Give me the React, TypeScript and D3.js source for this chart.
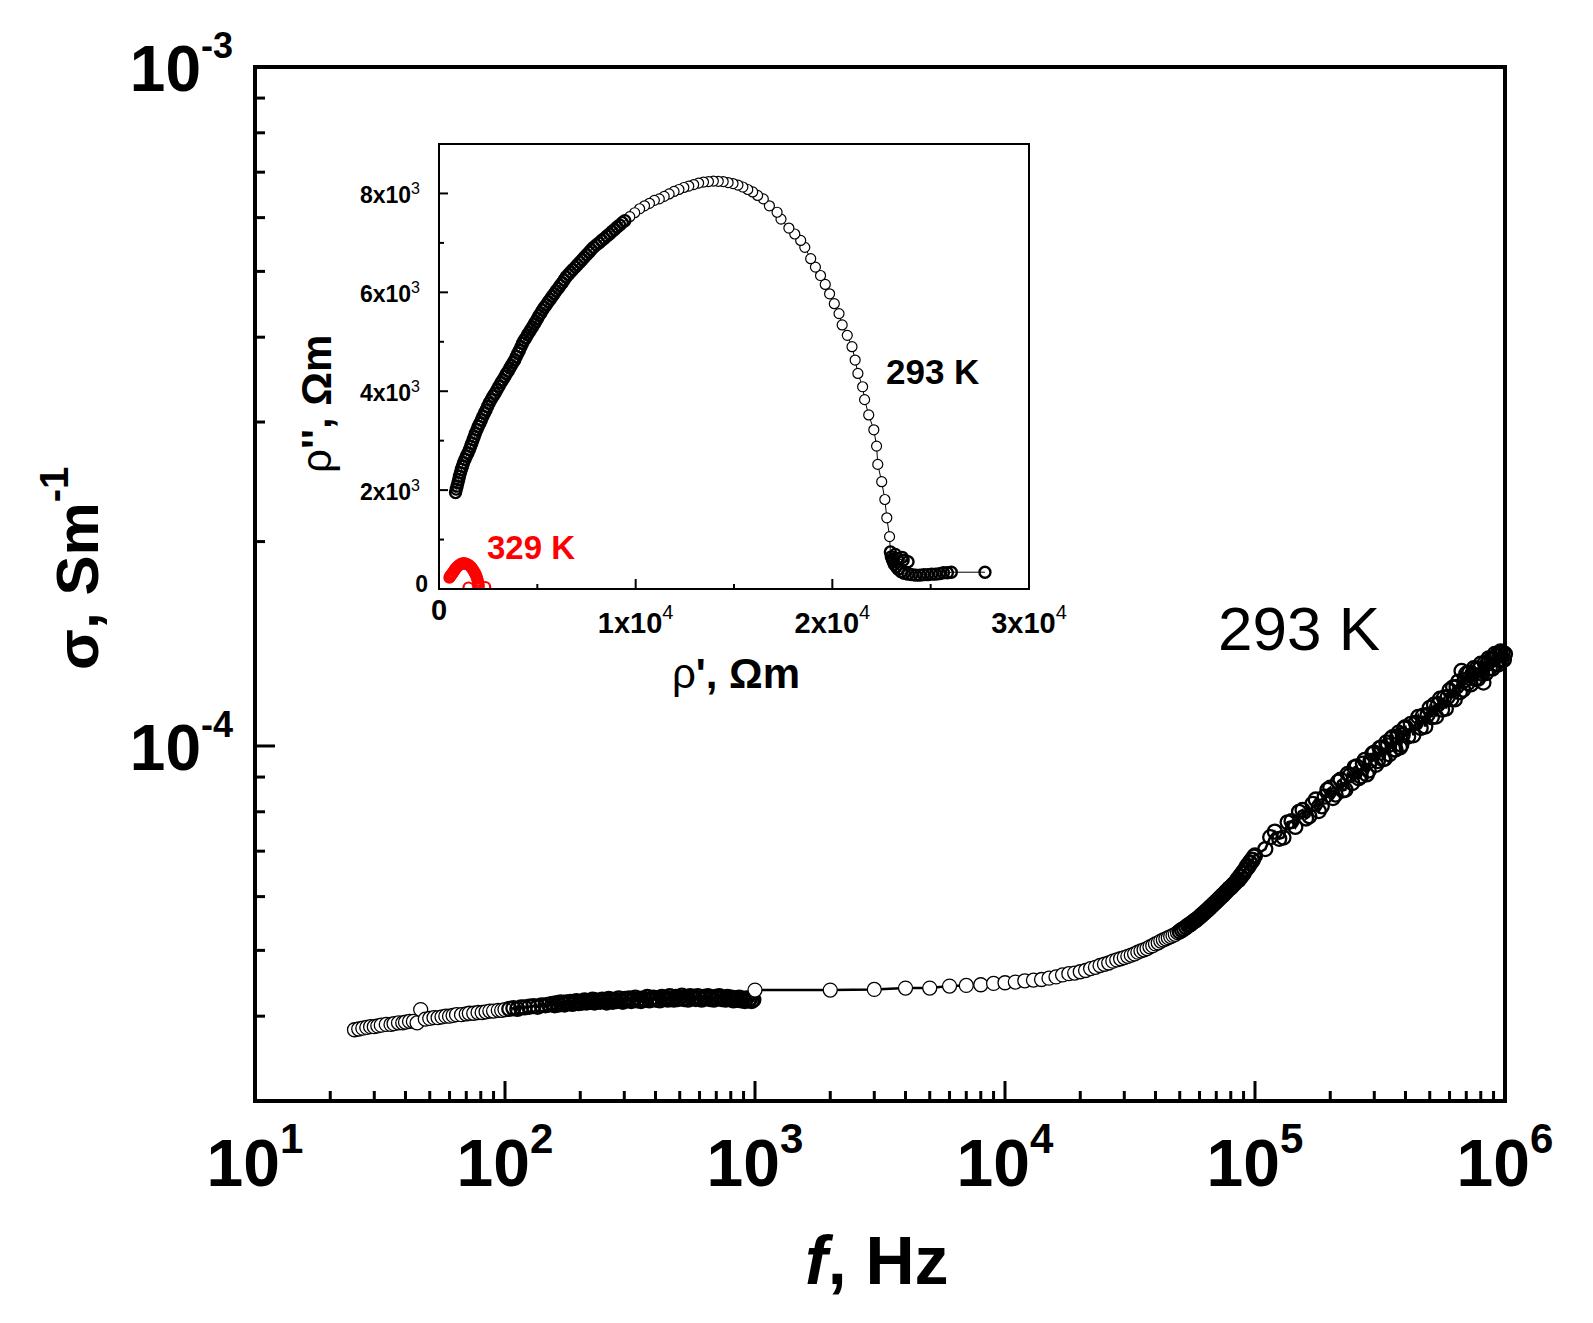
import React from 'react';
import * as d3 from 'd3';

const W = 1593;
const H = 1323;
const FONT = '"Liberation Sans", Arial, Helvetica, sans-serif';

// main plot: conductivity sigma (x1e-5 S/m) against frequency f (Hz), 293 K
const freqLow = [
  25, 26, 27, 28, 29, 30, 31, 32, 33.5, 35, 36, 37.5, 39, 40, 41.5, 43, 44.5, 46, 48, 50,
  52, 54, 56, 58, 60, 62, 64, 67, 70, 72, 75, 78, 81, 84, 87, 90, 94, 97, 100, 104,
  108, 112, 116, 120, 125, 130, 135, 140, 145, 150,
  155, 158, 161, 164, 167, 170, 173, 176, 180, 183, 186, 190, 193, 197, 200, 204, 208, 212, 216, 220,
  224, 228, 232, 236, 240, 245, 250, 255, 260, 265, 270, 275, 280, 285, 290, 296, 302, 308, 314, 320,
  326, 332, 338, 344, 350, 357, 364, 371, 378, 385, 392, 400, 408, 416, 424, 432, 440, 448, 456, 465,
  474, 483, 492, 500, 510, 520, 530, 540, 550, 560, 570, 580, 590, 600, 612, 624, 636, 648, 660, 672,
  684, 696, 708, 720, 734, 748, 762, 776, 790, 805, 820, 835, 850, 865, 880, 895, 910, 925, 940, 955,
  970, 985,
];
const sigmaLow = [
  3.82, 3.83, 3.84, 3.85, 3.86, 3.86, 3.87, 3.88, 3.89, 3.89, 3.90, 3.91, 3.91, 3.92, 3.93, 3.93, 3.91, 4.09, 3.96, 3.97,
  3.98, 3.98, 3.99, 4.00, 4.00, 4.01, 4.02, 4.02, 4.03, 4.04, 4.04, 4.05, 4.05, 4.06, 4.07, 4.07, 4.08, 4.08, 4.09, 4.10,
  4.11, 4.10, 4.12, 4.12, 4.13, 4.14, 4.13, 4.15, 4.15, 4.16,
  4.17, 4.15, 4.18, 4.16, 4.19, 4.17, 4.16, 4.19, 4.18, 4.20, 4.17, 4.19, 4.21, 4.18, 4.20, 4.19, 4.22, 4.19, 4.21, 4.20,
  4.23, 4.19, 4.22, 4.21, 4.20, 4.23, 4.21, 4.19, 4.24, 4.22, 4.20, 4.23, 4.21, 4.25, 4.22, 4.20, 4.24, 4.22, 4.25, 4.21,
  4.23, 4.26, 4.22, 4.24, 4.21, 4.25, 4.23, 4.27, 4.22, 4.24, 4.26, 4.23, 4.25, 4.22, 4.27, 4.24, 4.26, 4.23, 4.28, 4.25,
  4.23, 4.27, 4.24, 4.26, 4.29, 4.24, 4.26, 4.23, 4.28, 4.25, 4.27, 4.24, 4.28, 4.25, 4.23, 4.27, 4.25, 4.28, 4.24, 4.26,
  4.23, 4.27, 4.25, 4.28, 4.24, 4.26, 4.23, 4.27, 4.24, 4.26, 4.22, 4.25, 4.23, 4.26, 4.22, 4.24, 4.21, 4.25, 4.22, 4.24,
  4.21, 4.23,
];
const freqMid = [1000, 2000, 3000, 4000, 5000, 6000, 7000, 8000, 9000];
const sigmaMid = [4.37, 4.37, 4.38, 4.40, 4.40, 4.43, 4.44, 4.45, 4.47];
const freqHigh = [
  10000, 11000, 12000, 13000, 14000, 15000, 16000, 17000, 18000, 19000,
  20000, 21000, 22000, 23000, 24000, 25000, 26000, 27000, 28000, 29000,
  30000, 31000, 32000, 33000, 34000, 35000, 36000, 37000, 38000, 39000,
  40000, 41000, 42000, 43000, 44000, 45000, 46000, 47000, 48000, 49000,
  50000, 51000, 52000, 53000, 54000, 55000, 56000, 57000, 58000, 59000,
  60000, 61000, 62000, 63000, 64000, 65000, 66000, 67000, 68000, 69000,
  70000, 71000, 72000, 73000, 74000, 75000, 76000, 77000, 78000, 79000,
  80000, 81000, 82000, 83000, 84000, 85000, 86000, 87000, 88000, 89000,
  90000, 91000, 92000, 93000, 94000, 95000, 96000, 97000, 98000, 99000, 100000,
];
const sigmaHigh = [
  4.48, 4.49, 4.51, 4.52, 4.53, 4.55, 4.57, 4.60, 4.62, 4.63,
  4.65, 4.67, 4.70, 4.72, 4.75, 4.77, 4.79, 4.82, 4.84, 4.86,
  4.88, 4.90, 4.92, 4.94, 4.97, 4.99, 5.01, 5.03, 5.06, 5.08,
  5.11, 5.13, 5.16, 5.18, 5.20, 5.22, 5.24, 5.26, 5.28, 5.31,
  5.33, 5.36, 5.38, 5.41, 5.44, 5.46, 5.49, 5.52, 5.54, 5.57,
  5.60, 5.63, 5.66, 5.69, 5.72, 5.75, 5.78, 5.81, 5.84, 5.87,
  5.90, 5.93, 5.96, 5.99, 6.02, 6.05, 6.08, 6.11, 6.14, 6.17,
  6.19, 6.22, 6.25, 6.28, 6.31, 6.36, 6.35, 6.43, 6.42, 6.50,
  6.49, 6.57, 6.58, 6.66, 6.64, 6.73, 6.72, 6.80, 6.79, 6.87, 6.90,
];
const freqTop = [
  110000, 120000, 130000, 140000, 150000, 160000, 170000, 180000, 190000, 200000,
  210000, 220000, 230000, 240000, 250000, 260000, 270000, 280000, 290000, 300000,
  310000, 320000, 330000, 340000, 350000, 360000, 370000, 380000, 390000, 400000,
  410000, 420000, 430000, 440000, 450000, 460000, 470000, 480000, 490000, 500000,
  510000, 520000, 530000, 540000, 550000, 560000, 570000, 580000, 590000, 600000,
  610000, 620000, 630000, 640000, 650000, 660000, 670000, 680000, 690000, 700000,
  710000, 720000, 730000, 740000, 750000, 760000, 770000, 780000, 790000, 800000,
  810000, 820000, 830000, 840000, 850000, 860000, 870000, 880000, 890000, 900000,
  910000, 920000, 930000, 940000, 950000, 960000, 970000, 980000, 990000, 1000000,
];
const sigmaTop = [
  7.05, 7.48, 7.33, 7.75, 8.00, 7.82, 8.22, 8.02, 8.42, 8.68,
  8.48, 8.92, 8.62, 9.06, 9.30, 8.96, 9.42, 9.08, 9.51, 9.78,
  9.50, 9.95, 9.58, 10.02, 10.25, 9.88, 10.33, 9.95, 10.38, 10.66,
  10.33, 10.78, 10.37, 10.82, 11.04, 10.63, 11.08, 10.68, 11.11, 11.38,
  11.02, 11.50, 11.05, 11.52, 11.74, 11.31, 11.78, 11.35, 11.81, 12.08,
  11.72, 12.20, 11.71, 12.22, 12.44, 12.00, 12.90, 12.10, 12.50, 12.78,
  12.38, 12.82, 12.32, 12.76, 13.02, 12.55, 13.00, 12.56, 12.98, 13.22,
  12.78, 12.40, 13.25, 12.80, 13.22, 13.46, 13.02, 13.44, 13.00, 13.42,
  13.66, 13.20, 13.62, 13.18, 13.58, 13.78, 13.36, 13.72, 13.40, 13.66,
];
const freqTopExtra = [
  115000, 125000, 135000, 145000, 155000, 165000, 175000, 185000, 195000, 205000,
  215000, 225000, 235000, 245000, 255000, 265000, 275000, 285000, 295000, 305000,
  315000, 325000, 335000, 345000, 355000, 365000, 375000, 385000, 395000,
];
const sigmaTopExtra = [
  7.34, 7.30, 7.72, 7.60, 8.05, 7.88, 8.34, 8.15, 8.62, 8.38,
  8.86, 8.60, 9.10, 8.82, 9.33, 9.02, 9.54, 9.20, 9.74, 9.38,
  9.93, 9.56, 10.12, 9.72, 10.30, 9.88, 10.46, 10.04, 10.62,
];

// inset: rho'' against rho' (x1e3 Ohm m), 293 K
const rhoRe293 = [
  27.76, 26.05, 25.85, 25.65, 25.45, 25.25, 25.05, 24.85, 24.65, 24.45, 24.25, 24.05, 23.85, 23.65,
  23.5, 23.35, 23.25, 23.15, 23.1, 23.05, 23.0, 23.3, 23.6, 23.85, 23.55, 23.2, 22.95,
  22.91, 22.77, 22.67, 22.51, 22.31, 22.25, 22.11, 21.85, 21.64, 21.54, 21.30, 21.16, 21.00, 20.76,
  20.50, 20.34, 20.10, 19.86, 19.64, 19.40, 19.14, 18.90, 18.60, 18.39, 18.09, 17.79, 17.39, 17.19,
  16.80, 16.49,
  16.2, 15.95, 15.7, 15.45, 15.2, 14.95, 14.7, 14.45, 14.2, 13.95, 13.7, 13.45, 13.2, 12.95,
  12.7, 12.45, 12.2, 11.95, 11.7, 11.45, 11.2, 10.95, 10.7, 10.45, 10.2, 9.95, 9.7, 9.45,
  9.32, 9.19, 9.06, 8.93, 8.80, 8.67, 8.54, 8.40, 8.27, 8.13, 8.00, 7.86,
  7.74, 7.63, 7.51, 7.39, 7.28, 7.16, 7.04, 6.93, 6.81, 6.69, 6.58, 6.46,
  6.36, 6.26, 6.16, 6.06, 5.96, 5.86, 5.76, 5.66, 5.56, 5.46, 5.36, 5.26,
  5.18, 5.09, 5.01, 4.92, 4.84, 4.75, 4.67, 4.58, 4.50, 4.42, 4.33, 4.25,
  4.17, 4.09, 4.01, 3.93, 3.85, 3.77, 3.68, 3.60, 3.52, 3.43, 3.35,
  3.25, 3.15, 3.05, 2.95, 2.85, 2.75, 2.65, 2.55, 2.47, 2.39, 2.31, 2.23, 2.15,
  2.08, 2.00, 1.93, 1.85, 1.79, 1.73, 1.67, 1.61, 1.55, 1.47, 1.39, 1.32, 1.24,
  1.19, 1.14, 1.09, 1.04, 1.00, 0.96, 0.92, 0.88, 0.84,
];
const rhoIm293 = [
  0.34, 0.34, 0.33, 0.33, 0.31, 0.30, 0.30, 0.29, 0.29, 0.28, 0.28, 0.29, 0.30, 0.32,
  0.35, 0.40, 0.45, 0.50, 0.55, 0.60, 0.65, 0.62, 0.58, 0.55, 0.64, 0.70, 0.75,
  1.06, 1.44, 1.81, 2.17, 2.52, 2.89, 3.22, 3.52, 3.83, 4.09, 4.36, 4.63, 4.90, 5.13,
  5.34, 5.57, 5.77, 5.97, 6.16, 6.34, 6.51, 6.68, 6.91, 7.05, 7.18, 7.30, 7.48, 7.62,
  7.75, 7.89,
  7.96, 8.03, 8.08, 8.13, 8.17, 8.20, 8.22, 8.24, 8.245, 8.25, 8.24, 8.23, 8.21, 8.18,
  8.15, 8.12, 8.08, 8.04, 7.99, 7.94, 7.89, 7.86, 7.80, 7.75, 7.69, 7.61, 7.53, 7.45,
  7.41, 7.36, 7.32, 7.27, 7.23, 7.18, 7.14, 7.09, 7.05, 7.00, 6.96, 6.91,
  6.86, 6.81, 6.76, 6.71, 6.66, 6.61, 6.56, 6.51, 6.46, 6.41, 6.36, 6.31,
  6.25, 6.19, 6.14, 6.08, 6.03, 5.97, 5.92, 5.86, 5.81, 5.75, 5.70, 5.64,
  5.58, 5.53, 5.47, 5.41, 5.36, 5.30, 5.25, 5.19, 5.14, 5.08, 5.03, 4.97,
  4.90, 4.83, 4.77, 4.70, 4.63, 4.58, 4.52, 4.47, 4.41, 4.36, 4.30,
  4.23, 4.17, 4.10, 4.03, 3.96, 3.90, 3.83, 3.76, 3.69, 3.62, 3.56, 3.49, 3.42,
  3.35, 3.29, 3.22, 3.15, 3.08, 3.02, 2.95, 2.89, 2.82, 2.75, 2.69, 2.62, 2.55,
  2.48, 2.42, 2.35, 2.28, 2.21, 2.15, 2.08, 2.02, 1.95,
];

// inset: 329 K
const rhoRe329 = [
  2.35, 1.50, 2.02, 2.01, 1.99, 1.97, 1.94, 1.91, 1.87, 1.83, 1.78, 1.73, 1.68, 1.62, 1.56, 1.50,
  1.44, 1.38, 1.32, 1.26, 1.20, 1.14, 1.08, 1.03, 0.98, 0.93, 0.88, 0.83, 0.79, 0.75, 0.71, 0.67,
  0.63, 0.59, 0.56, 0.53,
];
const rhoIm329 = [
  0.04, 0.03, 0.05, 0.09, 0.13, 0.17, 0.21, 0.25, 0.29, 0.32, 0.36, 0.39, 0.42, 0.45, 0.47, 0.49,
  0.50, 0.51, 0.52, 0.52, 0.52, 0.51, 0.50, 0.48, 0.47, 0.45, 0.43, 0.41, 0.38, 0.36, 0.33, 0.31,
  0.29, 0.27, 0.25, 0.23,
];

const xMajor = [1e1, 1e2, 1e3, 1e4, 1e5, 1e6];
const xMajorExp = ['1', '2', '3', '4', '5', '6'];
const yMajor = [1e-3, 1e-4];
const yMajorExp = ['-3', '-4'];
const insetXTicks = [0, 1e4, 2e4, 3e4];
const insetXLabels = ['0', '1', '2', '3'];
const insetYTicks = [0, 2000, 4000, 6000, 8000];
const insetYLabels = ['0', '2', '4', '6', '8'];

export default function App() {
  // main frame
  const L = 255, R = 1505, T = 67, B = 1101;
  const x = d3.scaleLog().domain([10, 1e6]).range([L, R]);
  const y = d3.scaleLog().domain([3e-5, 1e-3]).range([B, T]);

  const mainPts: [number, number][] = [];
  [
    [freqLow, sigmaLow], [freqMid, sigmaMid], [freqHigh, sigmaHigh],
    [freqTop, sigmaTop], [freqTopExtra, sigmaTopExtra],
  ].forEach(([fs, ss]) => {
    fs.forEach((f, i) => mainPts.push([f, ss[i] * 1e-5]));
  });
  mainPts.sort((a, b) => a[0] - b[0]);
  const mainLine = d3.line<[number, number]>().x(d => x(d[0])).y(d => y(d[1]));
  // where the measured points pile up the symbols merge into a dark band
  const mainDense = (f: number) => (f > 100 && f < 1000) || f >= 50000;

  const xMinor: number[] = [];
  for (let e = 1; e < 6; e++) for (let m = 2; m <= 9; m++) xMinor.push(m * Math.pow(10, e));
  const yMinor: number[] = [];
  for (let m = 4; m <= 9; m++) yMinor.push(m * 1e-5);
  for (let m = 2; m <= 9; m++) yMinor.push(m * 1e-4);

  // inset frame
  const iL = 439, iR = 1029, iT = 144, iB = 589;
  const ix = d3.scaleLinear().domain([0, 3e4]).range([iL, iR]);
  const iy = d3.scaleLinear().domain([0, 9000]).range([iB, iT]);
  const pts293: [number, number][] = rhoRe293.map((v, i) => [v * 1e3, rhoIm293[i] * 1e3]);
  const pts329: [number, number][] = rhoRe329.map((v, i) => [v * 1e3, rhoIm329[i] * 1e3]);
  const insetLine = d3.line<[number, number]>().x(d => ix(d[0])).y(d => iy(d[1]));
  const insetDense = (d: [number, number]) => d[0] < 9500 || (d[0] > 22900 && d[1] < 800);
  const ixMinor = [5000, 15000, 25000];
  const iyMinor = [1000, 3000, 5000, 7000, 9000];

  return (
    <div style={{ position: 'absolute', left: 0, top: 0 }}>
      <svg width={W} height={H} style={{ display: 'block', background: '#fff' }} fontFamily={FONT}>
        <rect x={0} y={0} width={W} height={H} fill="#fff" />

        {/* main data */}
        <path d={mainLine(mainPts) || ''} fill="none" stroke="#000" strokeWidth={2.5} />
        {mainPts.map((d, i) => {
          const dense = mainDense(d[0]);
          return (
            <circle key={i} cx={x(d[0])} cy={y(d[1])} r={7}
              fill={dense ? 'none' : '#fff'} stroke="#000" strokeWidth={dense ? 2.3 : 1.3} />
          );
        })}

        {/* main frame and ticks */}
        <rect x={L} y={T} width={R - L} height={B - T} fill="none" stroke="#000" strokeWidth={4} />
        {xMajor.map(v => (
          <line key={'xM' + v} x1={x(v)} x2={x(v)} y1={B} y2={B - 20} stroke="#000" strokeWidth={3} />
        ))}
        {xMinor.map(v => (
          <line key={'xm' + v} x1={x(v)} x2={x(v)} y1={B} y2={B - 10} stroke="#000" strokeWidth={3} />
        ))}
        {yMajor.map(v => (
          <line key={'yM' + v} x1={L} x2={L + 20} y1={y(v)} y2={y(v)} stroke="#000" strokeWidth={3} />
        ))}
        {yMinor.map(v => (
          <line key={'ym' + v} x1={L} x2={L + 10} y1={y(v)} y2={y(v)} stroke="#000" strokeWidth={3} />
        ))}

        {xMajor.map((v, i) => (
          <text key={'xl' + v} x={x(v)} y={1186} textAnchor="middle" fontSize={66} fontWeight="bold">
            10<tspan fontSize={42} dy={-33}>{xMajorExp[i]}</tspan>
          </text>
        ))}
        {yMajor.map((v, i) => (
          <text key={'yl' + v} x={233} y={y(v) + 24} textAnchor="end" fontSize={64} fontWeight="bold">
            10<tspan fontSize={36} dy={-33}>{yMajorExp[i]}</tspan>
          </text>
        ))}

        <text x={805} y={1284} fontSize={68} fontWeight="bold">
          <tspan fontStyle="italic">f</tspan>, Hz
        </text>
        <text transform="translate(98,670) rotate(-90)" fontSize={60} fontWeight="bold">
          σ, Sm<tspan fontSize={40} dy={-30}>-1</tspan>
        </text>
        <text x={1218} y={650} fontSize={62}>293 K</text>

        {/* inset */}
        <rect x={iL} y={iT} width={iR - iL} height={iB - iT} fill="#fff" stroke="none" />
        <path d={insetLine(pts293) || ''} fill="none" stroke="#000" strokeWidth={1} />
        {pts293.map((d, i) => {
          const dense = insetDense(d);
          return (
            <circle key={'b' + i} cx={ix(d[0])} cy={iy(d[1])} r={dense ? 5.5 : 5}
              fill={dense ? 'none' : '#fff'} stroke="#000" strokeWidth={dense ? 2.4 : 1.2} />
          );
        })}
        <g clipPath="url(#insetClip)">
          {pts329.map((d, i) => (
            <circle key={'r' + i} cx={ix(d[0])} cy={iy(d[1])} r={5} fill="none" stroke="#ff0000" strokeWidth={2.2} />
          ))}
        </g>
        <defs>
          <clipPath id="insetClip">
            <rect x={iL} y={iT} width={iR - iL} height={iB - iT} />
          </clipPath>
        </defs>
        <rect x={iL} y={iT} width={iR - iL} height={iB - iT} fill="none" stroke="#000" strokeWidth={2} />
        {insetXTicks.map(v => (
          <line key={'ixM' + v} x1={ix(v)} x2={ix(v)} y1={iB} y2={iB - 10} stroke="#000" strokeWidth={2} />
        ))}
        {ixMinor.map(v => (
          <line key={'ixm' + v} x1={ix(v)} x2={ix(v)} y1={iB} y2={iB - 5} stroke="#000" strokeWidth={2} />
        ))}
        {insetYTicks.map(v => (
          <line key={'iyM' + v} x1={iL} x2={iL + 9} y1={iy(v)} y2={iy(v)} stroke="#000" strokeWidth={2} />
        ))}
        {iyMinor.map(v => (
          <line key={'iym' + v} x1={iL} x2={iL + 5} y1={iy(v)} y2={iy(v)} stroke="#000" strokeWidth={2} />
        ))}
        {insetXTicks.map((v, i) =>
          v === 0 ? (
            <text key={'ixl' + v} x={ix(v)} y={620} textAnchor="middle" fontSize={29} fontWeight="bold">0</text>
          ) : (
            <text key={'ixl' + v} x={ix(v)} y={633} textAnchor="middle" fontSize={29} fontWeight="bold">
              {insetXLabels[i]}x10<tspan fontSize={20} fontWeight="normal" dy={-14}>4</tspan>
            </text>
          )
        )}
        {insetYTicks.map((v, i) =>
          v === 0 ? (
            <text key={'iyl' + v} x={428} y={iy(v) + 3} textAnchor="end" fontSize={23} fontWeight="bold">0</text>
          ) : (
            <text key={'iyl' + v} x={420} y={iy(v) + 10} textAnchor="end" fontSize={23} fontWeight="bold">
              {insetYLabels[i]}x10<tspan fontSize={16} fontWeight="normal" dy={-9}>3</tspan>
            </text>
          )
        )}
        <text x={736} y={688} textAnchor="middle" fontSize={42} fontWeight="bold">
          <tspan fontWeight="normal">ρ</tspan>', Ωm
        </text>
        <text transform="translate(331,473) rotate(-90)" fontSize={42} fontWeight="bold">
          <tspan fontWeight="normal">ρ</tspan>'', Ωm
        </text>
        <text x={886} y={384} fontSize={35} fontWeight="bold">293 K</text>
        <text x={487} y={559} fontSize={33} fontWeight="bold" fill="#ff0000">329 K</text>
      </svg>
    </div>
  );
}
